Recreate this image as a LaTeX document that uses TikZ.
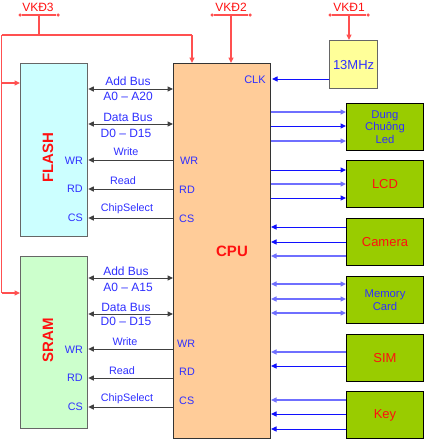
\documentclass[tikz,border=0pt]{standalone}
\usepackage{fontspec}
\setmainfont{Liberation Sans}
\usetikzlibrary{arrows.meta}
\definecolor{cyanfill}{HTML}{CCFFFF}
\definecolor{greenfill}{HTML}{CCFFCC}
\definecolor{cpufill}{HTML}{FFCC99}
\definecolor{yelfill}{HTML}{FFFF99}
\definecolor{devfill}{HTML}{99CC00}
\definecolor{lblue}{HTML}{2F2FFF}
\definecolor{dblue}{HTML}{1010FF}
\definecolor{pblue}{HTML}{6F6FFF}
\definecolor{lred}{HTML}{FF5050}
\definecolor{tred}{HTML}{FF1010}
\begin{document}
\begin{tikzpicture}[x=1pt,y=-1pt,
  >={Triangle[length=5.5pt,width=5pt]},
  box/.style={draw, anchor=north west, inner sep=0pt},
  memstyle/.style={box, draw=black!60, line width=1.3pt, minimum width=67pt},
  devbox/.style={box, fill=devfill, draw=black, line width=1pt, minimum width=77pt, minimum height=47pt},
  pwr/.style={draw=lred, line width=1.3pt},
  pwrtip/.style={pwr, ->},
  dot/.style={circle, fill=lred, inner sep=0pt, minimum size=3.5pt},
  bus/.style={draw=black!75, line width=1pt, <->},
  sig/.style={draw=black!75, line width=1pt, ->},
  bl/.style={draw=dblue, line width=1pt},
  bh/.style={draw=pblue, line width=1.8pt},
  busfont/.style={font=\fontsize{12}{14}\selectfont, text=lblue, inner sep=0pt},
  sigfont/.style={font=\fontsize{10.8}{12}\selectfont, text=lblue, inner sep=0pt},
  bigred/.style={font=\fontsize{15}{17}\selectfont\bfseries, text=tred, inner sep=0pt},
  devred/.style={font=\fontsize{13}{15}\selectfont, text=tred, inner sep=0pt},
  devblue/.style={font=\fontsize{11.3}{13}\selectfont, text=lblue, inner sep=0pt, align=center},
  vk/.style={font=\fontsize{12}{14}\selectfont, text=tred, inner sep=0pt}
]
\useasboundingbox (0,0) rectangle (424,439);

% main boxes
\node[memstyle, fill=cyanfill, minimum height=173pt] (flash) at (20,63) {};
\node[memstyle, fill=greenfill, minimum height=172pt] (sram) at (20,256) {};
\node[box, fill=cpufill, draw=black!80, line width=1pt, minimum width=97pt, minimum height=375pt] (cpu) at (173,63) {};
\node[box, fill=yelfill, draw=black!60, line width=1.2pt, minimum width=48pt, minimum height=48pt] (osc) at (329,40) {};
\node[busfont, font=\fontsize{13}{15}\selectfont] (osclbl) at (osc.center) {13MHz};

\node[bigred, rotate=90] (flashlbl) at (48,158) {FLASH};
\node[bigred, rotate=90] (sramlbl) at (48,340) {SRAM};
\node[bigred] (cpulbl) at (232,251) {CPU};

% peripheral boxes
\node[devbox] (dcl) at (346,103) {};
\node[devbox] (lcd) at (346,160) {};
\node[devbox] (cam) at (346,218) {};
\node[devbox] (mem) at (346,276) {};
\node[devbox] (sim) at (346,334) {};
\node[devbox] (key) at (346,391) {};
\node[devblue, font=\fontsize{11.3}{12.8}\selectfont] (dcltxt) at (dcl.center) {Dung\\Chuông\\Led};
\node[devred] (lcdtxt) at (lcd.center) {LCD};
\node[devred] (camtxt) at (cam.center) {Camera};
\node[devblue] (memtxt) at (mem.center) {Memory\\Card};
\node[devred] (simtxt) at (sim.center) {SIM};
\node[devred] (keytxt) at (key.center) {Key};

% power sources
\node[vk] (vk3) at (38,7) {VKĐ3};
\node[vk] (vk2) at (231,7) {VKĐ2};
\node[vk] (vk1) at (349,7) {VKĐ1};
\node[dot] (vk3a) at (20,15) {};
\node[dot] (vk3b) at (58,15) {};
\node[dot] (vk2a) at (212,15) {};
\node[dot] (vk2b) at (250,15) {};
\node[dot] (vk1a) at (330,15) {};
\node[dot] (vk1b) at (368,15) {};
\coordinate (vk3m) at (39,15);
\coordinate (vk2m) at (231,15);
\coordinate (vk1m) at (349,15);
\coordinate (pj) at (39,35);
\coordinate (pl) at (1.5,35);
\coordinate (pr) at (192,35);
\coordinate (pf) at (1.5,83);
\coordinate (ps) at (1.5,293);

\draw[pwr] (vk3a) -- (vk3b);
\draw[pwr] (vk2a) -- (vk2b);
\draw[pwr] (vk1a) -- (vk1b);
\draw[pwr] (vk3m) -- (pj);
\draw[pwr] (pl) -- (pr);
\draw[pwrtip] (pr) -- (pr |- cpu.north);
\draw[pwr] (pl) -- (ps);
\draw[pwrtip] (pf) -- (pf -| flash.west);
\draw[pwrtip] (ps) -- (ps -| sram.west);
\draw[pwrtip] (vk2m) -- (vk2m |- cpu.north);
\draw[pwrtip] (vk1m) -- (vk1m |- osc.north);

% clock
\node[sigfont, font=\fontsize{11}{13}\selectfont] (clk) at (255,80) {CLK};
\draw[bl, ->] (osc.west |- 0,79) -- (272,79);

% FLASH buses
\draw[bus] (flash.east |- 0,89) -- (cpu.west |- 0,89);
\draw[bus] (flash.east |- 0,124) -- (cpu.west |- 0,124);
\draw[sig] (cpu.west |- 0,160) -- (flash.east |- 0,160);
\draw[sig] (cpu.west |- 0,189) -- (flash.east |- 0,189);
\draw[sig] (cpu.west |- 0,218) -- (flash.east |- 0,218);
\node[busfont] (fab) at (128,81) {Add Bus};
\node[busfont] (faa) at (128,96) {A0 – A20};
\node[busfont] (fdb) at (128,117) {Data Bus};
\node[busfont] (fdd) at (126,133) {D0 – D15};
\node[sigfont] (fw) at (126,152) {Write};
\node[sigfont] (fr) at (123,181) {Read};
\node[sigfont] (fc) at (127,209) {ChipSelect};
\node[sigfont, anchor=east] (fwr) at (83,161) {WR};
\node[sigfont, anchor=east] (frd) at (83,189) {RD};
\node[sigfont, anchor=east] (fcs) at (83,218) {CS};
\node[sigfont, anchor=west] (cwr1) at (180,161) {WR};
\node[sigfont, anchor=west] (crd1) at (179,190) {RD};
\node[sigfont, anchor=west] (ccs1) at (179,219) {CS};

% SRAM buses
\draw[bus] (sram.east |- 0,278) -- (cpu.west |- 0,278);
\draw[bus] (sram.east |- 0,314) -- (cpu.west |- 0,314);
\draw[sig] (cpu.west |- 0,349) -- (sram.east |- 0,349);
\draw[sig] (cpu.west |- 0,378) -- (sram.east |- 0,378);
\draw[sig] (cpu.west |- 0,407) -- (sram.east |- 0,407);
\node[busfont] (sab) at (126,271) {Add Bus};
\node[busfont] (saa) at (128,287) {A0 – A15};
\node[busfont] (sdb) at (126,307) {Data Bus};
\node[busfont] (sdd) at (126,321) {D0 – D15};
\node[sigfont] (sw) at (125,342) {Write};
\node[sigfont] (sr) at (122,371) {Read};
\node[sigfont] (sc) at (127,399) {ChipSelect};
\node[sigfont, anchor=east] (swr) at (83,350) {WR};
\node[sigfont, anchor=east] (srd) at (83,378) {RD};
\node[sigfont, anchor=east] (scs) at (83,407) {CS};
\node[sigfont, anchor=west] (cwr2) at (177,344) {WR};
\node[sigfont, anchor=west] (crd2) at (179,372) {RD};
\node[sigfont, anchor=west] (ccs2) at (179,401) {CS};

% CPU -> peripherals
\draw[bh, ->] (cpu.east |- 0,112) -- (dcl.west |- 0,112);
\draw[bl, ->] (cpu.east |- 0,126) -- (dcl.west |- 0,126);
\draw[bh, ->] (cpu.east |- 0,141) -- (dcl.west |- 0,141);
\draw[bl, ->] (cpu.east |- 0,170) -- (lcd.west |- 0,170);
\draw[bh, ->] (cpu.east |- 0,184) -- (lcd.west |- 0,184);
\draw[bl, ->] (cpu.east |- 0,198) -- (lcd.west |- 0,198);
\draw[bl, ->] (cam.west |- 0,227) -- (cpu.east |- 0,227);
\draw[bl, ->] (cam.west |- 0,242) -- (cpu.east |- 0,242);
\draw[bh, ->] (cam.west |- 0,256) -- (cpu.east |- 0,256);
\draw[bh, <->] (cpu.east |- 0,284) -- (mem.west |- 0,284);
\draw[bh, <->] (cpu.east |- 0,299) -- (mem.west |- 0,299);
\draw[bh, <->] (cpu.east |- 0,313) -- (mem.west |- 0,313);
\draw[bh, ->] (sim.west |- 0,352) -- (cpu.east |- 0,352);
\draw[bl, ->] (sim.west |- 0,366) -- (cpu.east |- 0,366);
\draw[bh, ->] (key.west |- 0,400) -- (cpu.east |- 0,400);
\draw[bl, ->] (key.west |- 0,414) -- (cpu.east |- 0,414);
\draw[bl, ->] (key.west |- 0,429) -- (cpu.east |- 0,429);
\end{tikzpicture}
\end{document}
